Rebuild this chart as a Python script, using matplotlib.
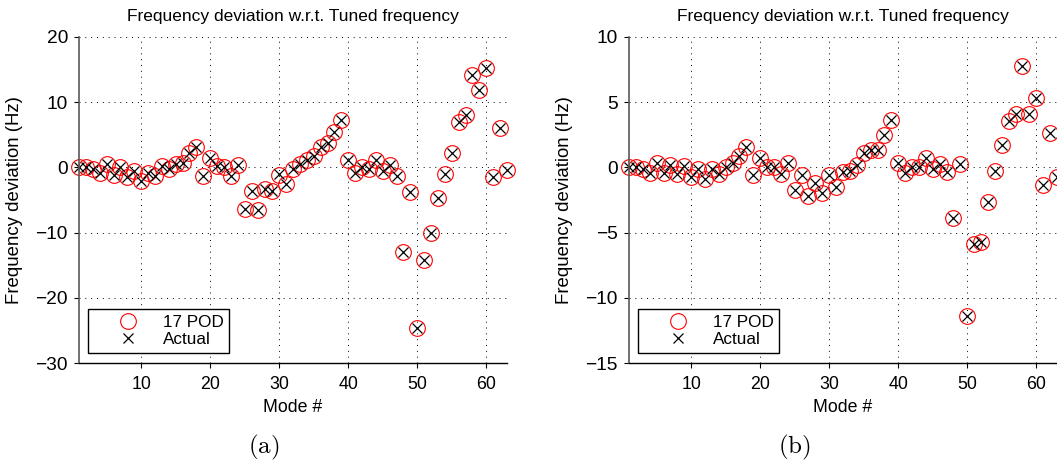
import matplotlib.pyplot as plt

plt.rcParams['font.family'] = ['Liberation Sans', 'DejaVu Sans']
plt.rcParams['mathtext.fontset'] = 'cm'

modes = list(range(1, 64))

# (a) frequency deviation, Hz
actual_a = [0.0, 0.0, -0.2, -0.9, 0.5, -1.1, 0.0, -1.5, -0.5, -2.1,
            -0.8, -1.3, 0.2, -0.2, 0.5, 0.6, 2.2, 3.1, -1.3, 1.5,
            0.2, 0.0, -1.3, 0.4, -6.4, -3.6, -6.5, -3.3, -3.6, -1.0,
            -2.5, -0.2, 0.5, 1.1, 1.8, 3.1, 3.8, 5.4, 7.2, 1.1,
            -0.9, 0.0, -0.3, 1.2, -0.5, 0.3, -1.3, -12.9, -3.8, -24.6,
            -14.2, -10.1, -4.7, -1.0, 2.2, 7.0, 8.0, 14.2, 11.8, 15.3,
            -1.4, 6.0, -0.4]
pod_a = [0.0, 0.0, -0.2, -0.9, 0.5, -1.1, 0.0, -1.5, -0.5, -2.1,
         -0.8, -1.3, 0.2, -0.2, 0.5, 0.6, 2.2, 3.1, -1.3, 1.5,
         0.2, 0.0, -1.3, 0.4, -6.4, -3.6, -6.5, -3.3, -3.6, -1.2,
         -2.5, -0.2, 0.5, 1.1, 1.8, 3.1, 3.8, 5.4, 7.2, 1.1,
         -0.9, 0.0, -0.3, 1.2, -0.5, 0.3, -1.3, -12.9, -3.8, -24.6,
         -14.2, -10.1, -4.7, -1.0, 2.2, 7.0, 8.0, 14.2, 11.8, 15.3,
         -1.4, 6.0, -0.4]

# (b) frequency deviation, Hz
actual_b = [0.0, 0.0, -0.1, -0.4, 0.3, -0.4, 0.2, -0.5, 0.1, -0.7,
            -0.1, -0.9, -0.1, -0.5, 0.0, 0.3, 0.85, 1.55, -0.6, 0.75,
            0.0, 0.0, -0.5, 0.35, -1.7, -0.6, -2.2, -1.2, -2.0, -0.6,
            -1.5, -0.35, -0.3, 0.15, 1.1, 1.3, 1.3, 2.45, 3.65, 0.35,
            -0.45, 0.0, 0.0, 0.75, -0.1, 0.25, -0.35, -3.85, 0.25, -11.4,
            -5.85, -5.75, -2.65, -0.3, 1.75, 3.55, 4.1, 7.75, 4.1, 5.35,
            -1.35, 2.65, -0.7]
pod_b = [0.0, 0.0, -0.1, -0.4, 0.3, -0.4, 0.2, -0.5, 0.1, -0.7,
         -0.1, -0.9, -0.1, -0.5, 0.0, 0.3, 0.85, 1.55, -0.6, 0.75,
         0.0, 0.0, -0.5, 0.35, -1.7, -0.6, -2.2, -1.2, -2.0, -0.6,
         -1.5, -0.35, -0.3, 0.15, 1.1, 1.3, 1.3, 2.45, 3.65, 0.35,
         -0.45, 0.0, 0.0, 0.75, -0.1, 0.25, -0.35, -3.85, 0.25, -11.4,
         -5.85, -5.75, -2.65, -0.3, 1.75, 3.55, 4.1, 7.75, 4.1, 5.35,
         -1.35, 2.65, -0.7]

xticks = [10, 20, 30, 40, 50, 60]
yticks_a = [-30, -20, -10, 0, 10, 20]
yticks_b = [-15, -10, -5, 0, 5, 10]


def plotPanel(ax, pod, actual, yticks, tag, tagx):
    ax.plot(modes, pod, 'o', color='red', markerfacecolor='none',
            markersize=11.3, markeredgewidth=0.8, clip_on=False, label='17 POD')
    ax.plot(modes, actual, 'x', color='black',
            markersize=6.8, markeredgewidth=0.9, clip_on=False, label='Actual')
    ax.set_xlim(1, 63)
    ax.set_ylim(yticks[0], yticks[-1])
    ax.set_xticks(xticks)
    ax.set_yticks(yticks)
    ax.grid(True, color='black', linestyle=(0, (1, 5)), linewidth=0.7)
    ax.spines['top'].set_visible(False)
    ax.spines['right'].set_visible(False)
    ax.spines['left'].set_color('0.35')
    ax.spines['left'].set_linewidth(1.2)
    ax.spines['bottom'].set_linewidth(1.0)
    ax.tick_params(direction='out', length=3.5, width=0.8)
    ax.tick_params(axis='x', pad=6, labelsize=12.8)
    ax.tick_params(axis='y', pad=4.5, labelsize=13.8)
    ax.set_title('Frequency deviation w.r.t. Tuned frequency', fontsize=12.5, pad=11.7)
    ax.set_xlabel('Mode #', fontsize=12.8)
    ax.set_ylabel('Frequency deviation (Hz)', fontsize=13.4)
    ax.xaxis.set_label_coords(0.5, -0.11)
    ax.yaxis.set_label_coords(-0.131, 0.5)
    leg = ax.legend(loc='lower left', bbox_to_anchor=(0.0217, 0.0298),
                    borderaxespad=0, fontsize=12.3, fancybox=False,
                    edgecolor='black', framealpha=1, numpoints=1,
                    handlelength=3.9, handletextpad=0.1, borderpad=0.35,
                    labelspacing=0.12)
    leg.get_frame().set_linewidth(1.0)
    plt.gcf().text(tagx, 0.0346, tag, fontsize=18, ha='center', va='center')


fig = plt.figure(figsize=(10.57, 4.63), dpi=100)
ax1 = fig.add_axes([79 / 1057, 100 / 463, 428 / 1057, 326 / 463])
ax2 = fig.add_axes([629 / 1057, 100 / 463, 428 / 1057, 326 / 463])

plotPanel(ax1, pod_a, actual_a, yticks_a, r'$\mathrm{(a)}$', 264 / 1057)
plotPanel(ax2, pod_b, actual_b, yticks_b, r'$\mathrm{(b)}$', 794 / 1057)

plt.savefig('out.png', dpi=100)
